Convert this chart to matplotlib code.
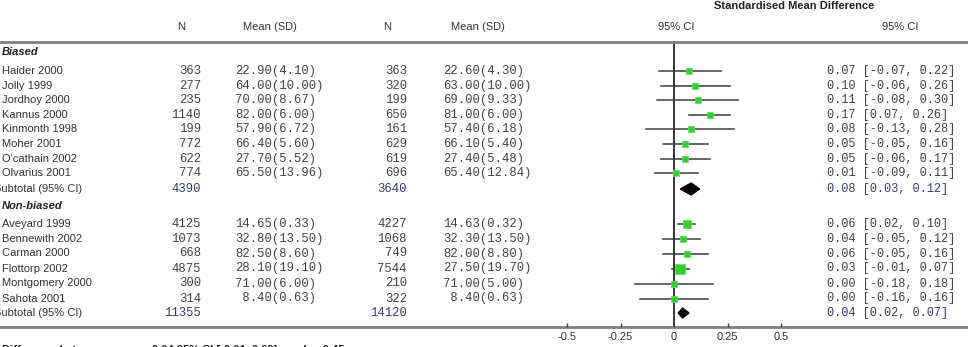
import matplotlib.pyplot as plt
import matplotlib.transforms as mtransforms

# ---- data ----
studies_b = ['Haider 2000', 'Jolly 1999', 'Jordhoy 2000', 'Kannus 2000', 'Kinmonth 1998',
             'Moher 2001', "O'cathain 2002", 'Olvarius 2001']
n1_b = [363, 277, 235, 1140, 199, 772, 622, 774]
m1_b = [22.90, 64.00, 70.00, 82.00, 57.90, 66.40, 27.70, 65.50]
sd1_b = [4.10, 10.00, 8.67, 6.00, 6.72, 5.60, 5.52, 13.96]
n2_b = [363, 320, 199, 650, 161, 629, 619, 696]
m2_b = [22.60, 63.00, 69.00, 81.00, 57.40, 66.10, 27.40, 65.40]
sd2_b = [4.30, 10.00, 9.33, 6.00, 6.18, 5.40, 5.48, 12.84]
smd_b = [0.07, 0.10, 0.11, 0.17, 0.08, 0.05, 0.05, 0.01]
lo_b = [-0.07, -0.06, -0.08, 0.07, -0.13, -0.05, -0.06, -0.09]
hi_b = [0.22, 0.26, 0.30, 0.26, 0.28, 0.16, 0.17, 0.11]

studies_n = ['Aveyard 1999', 'Bennewith 2002', 'Carman 2000', 'Flottorp 2002',
             'Montgomery 2000', 'Sahota 2001']
n1_n = [4125, 1073, 668, 4875, 300, 314]
m1_n = [14.65, 32.80, 82.50, 28.10, 71.00, 8.40]
sd1_n = [0.33, 13.50, 8.60, 19.10, 6.00, 0.63]
n2_n = [4227, 1068, 749, 7544, 210, 322]
m2_n = [14.63, 32.30, 82.00, 27.50, 71.00, 8.40]
sd2_n = [0.32, 13.50, 8.80, 19.70, 5.00, 0.63]
smd_n = [0.06, 0.04, 0.06, 0.03, 0.00, 0.00]
lo_n = [0.02, -0.05, -0.05, -0.01, -0.18, -0.16]
hi_n = [0.10, 0.12, 0.16, 0.07, 0.18, 0.16]

sub_n1 = [4390, 11355]
sub_n2 = [3640, 14120]
sub_smd = [0.08, 0.04]
sub_lo = [0.03, 0.02]
sub_hi = [0.12, 0.07]

ticks = [-0.5, -0.25, 0, 0.25, 0.5]
tick_labels = ['-0.5', '-0.25', '0', '0.25', '0.5']

# ---- layout (pixels) ----
W, H = 968, 347
zero_px, unit_px = 674, 214
fig = plt.figure(figsize=(W / 100, H / 100), dpi=100)
ax = fig.add_axes([0, 0, 1, 1])
ax.set_xlim(-zero_px / unit_px, (W - zero_px) / unit_px)
ax.set_ylim(H, 0)
ax.axis('off')
tr = mtransforms.blended_transform_factory(ax.transAxes, ax.transData)

SANS = 'Liberation Sans'
MONO = 'Liberation Mono'
txt = '#333333'
num = '#444444'
navy = '#3b3b70'
green = '#2bd42b'


def put(xpx, y, s, ha='left', family=SANS, size=8, color=txt, **kw):
    ax.text(xpx / W, y, s, transform=tr, ha=ha, va='center', family=family,
            fontsize=size, color=color, **kw)


# header
put(794, 6, 'Standardised Mean Difference', ha='center', weight='bold', color='#222222')
put(181, 27, 'N', ha='center')
put(270, 27, 'Mean (SD)', ha='center')
put(387, 27, 'N', ha='center')
put(478, 27, 'Mean (SD)', ha='center')
put(676, 27, '95% CI', ha='center')
put(900, 27, '95% CI', ha='center')
ax.axhline(41.5, color='#808080', lw=2)


def group(title, ytitle, y0, step, names, n1, m1, sd1, n2, m2, sd2, smd, lo, hi):
    put(2, ytitle, title, weight='bold', style='italic', color='#222222')
    ys = [y0 + i * step for i in range(len(names))]
    for i, y in enumerate(ys):
        put(2, y, names[i])
        put(201, y, str(n1[i]), ha='right', family=MONO, size=8.8, color=num)
        put(235, y, f'{m1[i]:5.2f}({sd1[i]:.2f})', family=MONO, size=8.8, color=num)
        put(407, y, str(n2[i]), ha='right', family=MONO, size=8.8, color=num)
        put(443, y, f'{m2[i]:5.2f}({sd2[i]:.2f})', family=MONO, size=8.8, color=num)
        put(827, y, f'{smd[i]:.2f} [{lo[i]:.2f}, {hi[i]:.2f}]', family=MONO, size=8.6, color=num)
        ax.plot([lo[i], hi[i]], [y, y], color='#3a3a3a', lw=1.1, zorder=2)
        # box size grows with the study's total sample size
        ms = 0.72 * (4.5 + 0.45 * ((n1[i] + n2[i]) / 100) ** 0.5)
        ax.plot(smd[i], y, 's', color=green, ms=ms, mec='#66dd66', mew=0.6, zorder=3)
    return ys


group('Biased', 52, 71, 14.6, studies_b, n1_b, m1_b, sd1_b, n2_b, m2_b, sd2_b,
      smd_b, lo_b, hi_b)
group('Non-biased', 205.5, 223.5, 15.0, studies_n, n1_n, m1_n, sd1_n, n2_n, m2_n, sd2_n,
      smd_n, lo_n, hi_n)

# subtotals
for k, y in enumerate([189, 313]):
    put(-6, y, 'Subtotal (95% CI)')
    put(201, y, str(sub_n1[k]), ha='right', family=MONO, size=8.8, color=navy)
    put(407, y, str(sub_n2[k]), ha='right', family=MONO, size=8.8, color=navy)
    put(827, y, f'{sub_smd[k]:.2f} [{sub_lo[k]:.2f}, {sub_hi[k]:.2f}]', family=MONO,
        size=8.6, color=navy)
    h = 6 if k == 0 else 5
    ax.fill([sub_lo[k], sub_smd[k], sub_hi[k], sub_smd[k]], [y, y - h, y, y + h],
            color='black', zorder=4)

# line of no effect and bottom axis
ax.plot([0, 0], [41.5, 327], color='black', lw=1.1, zorder=1)
ax.axhline(327, color='#808080', lw=2)
ax.vlines(ticks, 322.5, 327, color='#444444', lw=1)
for t, lab in zip(ticks, tick_labels):
    ax.text(t, 337, lab, ha='center', va='center', family=SANS, fontsize=8, color=txt)

put(2, 350, 'Difference between groups: 0.04 95% CI [-0.01, 0.09] p-value 0.45',
    weight='bold', color='#222222')

fig.savefig('out.png', dpi=100)
